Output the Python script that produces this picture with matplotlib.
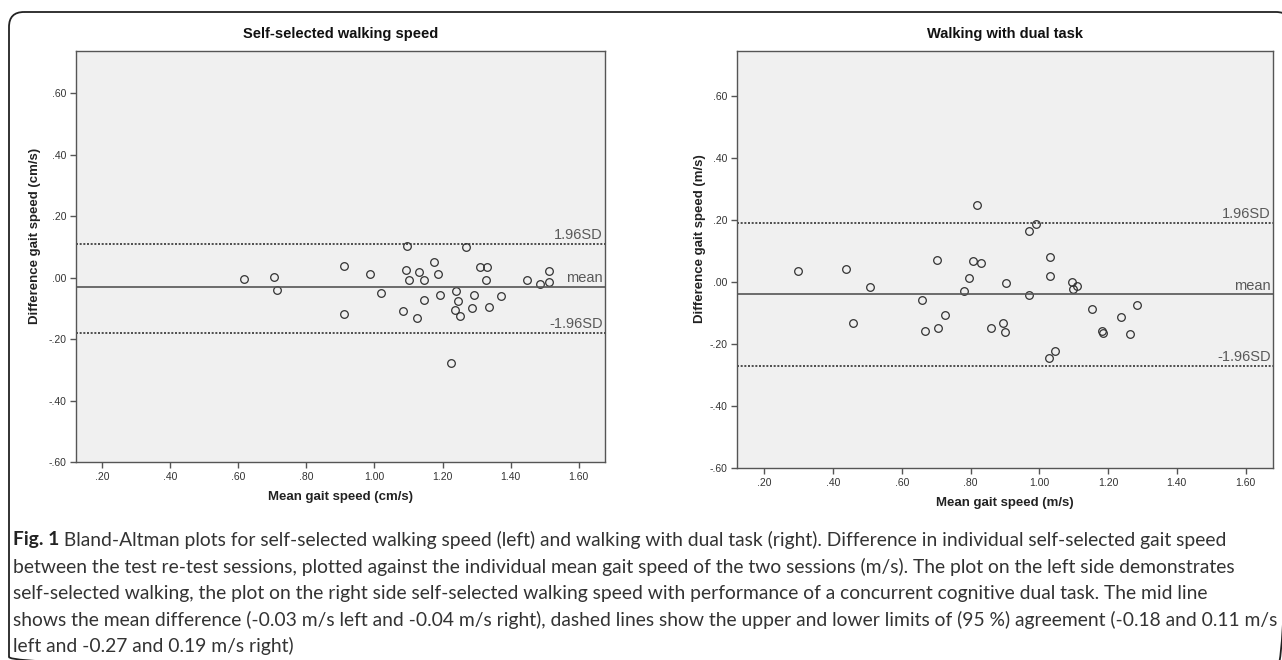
import matplotlib
matplotlib.use('Agg')
import matplotlib.pyplot as plt
import matplotlib.transforms as mtransforms
from matplotlib.patches import FancyBboxPatch

W, H, DPI = 1282, 660, 100

# Data
left_mean = [0.617, 0.705, 0.713, 0.910, 0.910, 0.986, 1.019, 1.097, 1.093, 1.102,
             1.084, 1.124, 1.132, 1.146, 1.147, 1.176, 1.186, 1.193, 1.239, 1.244,
             1.237, 1.250, 1.269, 1.286, 1.291, 1.309, 1.332, 1.328, 1.337, 1.372,
             1.449, 1.487, 1.512, 1.513, 1.226]
left_diff = [-0.004, 0.003, -0.040, 0.039, -0.118, 0.013, -0.050, 0.102, 0.025, -0.007,
             -0.109, -0.132, 0.017, -0.009, -0.073, 0.051, 0.012, -0.056, -0.043, -0.075,
             -0.104, -0.125, 0.101, -0.099, -0.056, 0.033, 0.033, -0.009, -0.095, -0.059,
             -0.009, -0.020, -0.016, 0.022, -0.278]
right_mean = [0.298, 0.437, 0.458, 0.506, 0.659, 0.668, 0.702, 0.706, 0.724, 0.781,
              0.796, 0.808, 0.818, 0.829, 0.860, 0.893, 0.900, 0.902, 0.969, 0.970,
              0.990, 1.030, 1.030, 1.095, 1.097, 1.111, 1.153, 1.181, 1.185, 1.238,
              1.265, 1.284, 1.028, 1.045]
right_diff = [0.035, 0.042, -0.131, -0.016, -0.057, -0.157, 0.070, -0.147, -0.108, -0.029,
              0.013, 0.068, 0.247, 0.061, -0.150, -0.132, -0.160, -0.002, -0.042, 0.165,
              0.187, 0.081, 0.019, -0.001, -0.023, -0.012, -0.086, -0.157, -0.165, -0.112,
              -0.167, -0.074, -0.246, -0.222]

left_limits = {'mean': -0.03, '1.96SD': 0.11, '-1.96SD': -0.18}
right_limits = {'mean': -0.04, '1.96SD': 0.19, '-1.96SD': -0.27}

x_ticks = [0.2, 0.4, 0.6, 0.8, 1.0, 1.2, 1.4, 1.6]
y_ticks = [-0.6, -0.4, -0.2, 0.0, 0.2, 0.4, 0.6]

titles = ['Self-selected walking speed', 'Walking with dual task']
x_labels = ['Mean gait speed (cm/s)', 'Mean gait speed (m/s)']
y_labels = ['Difference gait speed (cm/s)', 'Difference gait speed (m/s)']

caption_bold = 'Fig. 1'
caption_lines = [
    ' Bland-Altman plots for self-selected walking speed (left) and walking with dual task (right). Difference in individual self-selected gait speed',
    'between the test re-test sessions, plotted against the individual mean gait speed of the two sessions (m/s). The plot on the left side demonstrates',
    'self-selected walking, the plot on the right side self-selected walking speed with performance of a concurrent cognitive dual task. The mid line',
    'shows the mean difference (-0.03 m/s left and -0.04 m/s right), dashed lines show the upper and lower limits of (95 %) agreement (-0.18 and 0.11 m/s',
    'left and -0.27 and 0.19 m/s right)',
]

narrow = ['Liberation Sans Narrow', 'Liberation Sans', 'DejaVu Sans']
arial = ['Liberation Sans', 'DejaVu Sans']
cap_font = ['Lato', 'DejaVu Sans']


def spss_fmt(v, pos=None):
    s = f'{v:.2f}'
    if s.startswith('0.'):
        s = s[1:]
    elif s.startswith('-0.'):
        s = '-' + s[2:]
    return s


def px_box(x0, y0, x1, y1):
    return [x0 / W, 1 - y1 / H, (x1 - x0) / W, (y1 - y0) / H]


fig = plt.figure(figsize=(W / DPI, H / DPI), dpi=DPI)

# background layer in pixel coordinates (border, titles, caption)
bg = fig.add_axes([0, 0, 1, 1], zorder=0)
bg.set_xlim(0, W)
bg.set_ylim(H, 0)
bg.axis('off')
bg.add_patch(FancyBboxPatch((9, 12), W, H, boxstyle='round,pad=0,rounding_size=15',
                            fill=False, edgecolor='#222222', linewidth=1.3))

panels = [
    dict(box=(76, 51, 605, 462), xlim=(0.124, 1.677), ylim=(-0.6, 0.737),
         x=left_mean, y=left_diff, lim=left_limits, ylab_x=35, xlab_y=497),
    dict(box=(737, 51, 1273, 468), xlim=(0.12, 1.68), ylim=(-0.6, 0.745),
         x=right_mean, y=right_diff, lim=right_limits, ylab_x=700, xlab_y=503),
]

for i, p in enumerate(panels):
    x0, y0, x1, y1 = p['box']
    ax = fig.add_axes(px_box(x0, y0, x1, y1), zorder=2)
    ax.set_facecolor('#f0f0f0')
    for sp in ax.spines.values():
        sp.set_color('#555555')
        sp.set_linewidth(1.0)

    ax.plot(p['x'], p['y'], linestyle='none', marker='o', markersize=5.5,
            markerfacecolor='none', markeredgecolor='#333333', markeredgewidth=0.9)

    trans = mtransforms.blended_transform_factory(ax.transAxes, ax.transData)
    for name, val in p['lim'].items():
        if name == 'mean':
            ax.axhline(val, color='#555555', linewidth=1.2)
        else:
            ax.axhline(val, color='#333333', linewidth=1.2, linestyle=(0, (1.2, 1.0)))
        ax.text(0.996, val + 0.006, name, transform=trans, ha='right', va='bottom',
                fontsize=10.5, color='#595959', family=arial)

    ax.set_xlim(*p['xlim'])
    ax.set_ylim(*p['ylim'])
    ax.set_xticks(x_ticks)
    ax.set_yticks(y_ticks)
    ax.xaxis.set_major_formatter(spss_fmt)
    ax.yaxis.set_major_formatter(spss_fmt)
    ax.tick_params(direction='out', length=4, width=1, color='#555555',
                   labelsize=7.5, labelcolor='#333333', pad=3)
    for lab in ax.get_xticklabels() + ax.get_yticklabels():
        lab.set_family(narrow)

    cx = (x0 + x1) / 2
    bg.text(cx, 34, titles[i], ha='center', va='center', fontsize=10.5,
            fontweight='bold', color='#111111', family=arial)
    bg.text(cx, p['xlab_y'], x_labels[i], ha='center', va='center', fontsize=9.5,
            fontweight='bold', color='#222222', family=narrow)
    bg.text(p['ylab_x'], y0 + 0.45 * (y1 - y0), y_labels[i], ha='center', va='center',
            rotation=90, fontsize=9.5, fontweight='bold', color='#222222', family=narrow)

# caption, sized so the widest line spans the page width
renderer = fig.canvas.get_renderer()
widest = 0
for line in caption_lines[1:] + [caption_bold + caption_lines[0]]:
    probe = bg.text(0, 0, line, fontsize=12, family=cap_font)
    widest = max(widest, probe.get_window_extent(renderer).width)
    probe.remove()
cap_size = 12 * 1258 / widest

cap_x, cap_y, cap_step = 13, 540, 26.5
fb = bg.text(cap_x, cap_y, caption_bold, fontsize=cap_size, fontweight='bold',
             color='#222222', family=cap_font, va='center')
bw = fb.get_window_extent(renderer).width
for k, line in enumerate(caption_lines):
    x = cap_x + bw if k == 0 else cap_x
    bg.text(x, cap_y + k * cap_step, line, fontsize=cap_size, color='#333333',
            family=cap_font, va='center')

fig.savefig('out.png', dpi=DPI)
plt.close(fig)
